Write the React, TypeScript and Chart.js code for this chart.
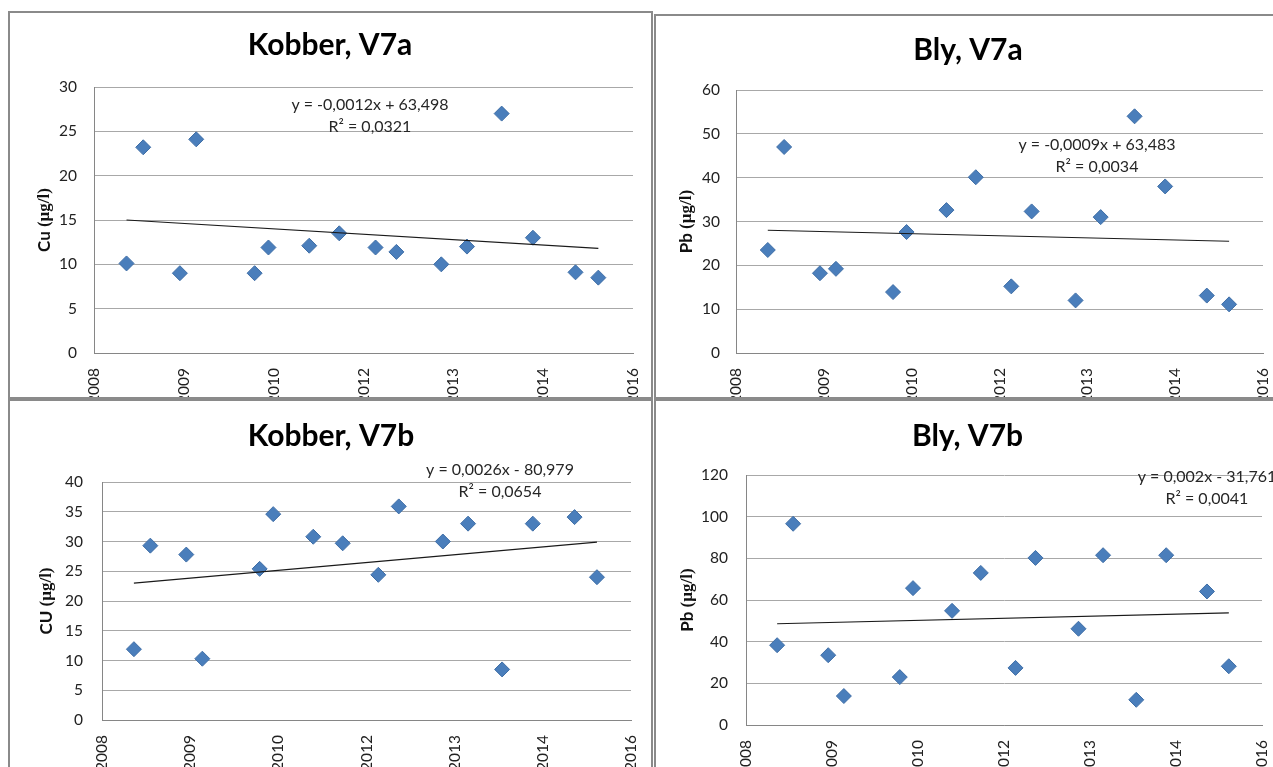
import React, { useEffect, useRef } from 'react';
import { Chart, registerables } from 'chart.js';

Chart.register(...registerables);

// Sampling dates as Excel serial day numbers (shared by all four charts)
const sampleDates = [39681, 39774, 39978, 40069, 40394, 40471, 40698, 40865, 41067, 41183, 41433, 41576, 41769, 41943, 42180, 42307];

// Measured concentrations (µg/l)
const cuV7a = [10.1, 23.2, 9.0, 24.1, 9.0, 11.9, 12.1, 13.5, 11.9, 11.4, 10.0, 12.0, 27.0, 13.0, 9.1, 8.5];
const pbV7a = [23.5, 47.0, 18.2, 19.2, 13.9, 27.6, 32.6, 40.1, 15.2, 32.3, 12.0, 31.0, 54.0, 38.0, 13.1, 11.1];
const cuV7b = [11.9, 29.3, 27.8, 10.3, 25.4, 34.6, 30.8, 29.7, 24.4, 35.9, 30.0, 33.0, 8.5, 33.0, 34.1, 24.0];
const pbV7b = [38.3, 96.6, 33.5, 13.9, 23.0, 65.7, 54.8, 73.0, 27.4, 80.2, 46.2, 81.5, 12.1, 81.5, 64.1, 28.2];

// Linear trendline values at the first and last sampling date
const trendCuV7a = [15.0, 11.8];
const trendPbV7a = [28.0, 25.5];
const trendCuV7b = [23.0, 29.9];
const trendPbV7b = [48.6, 53.8];

// Trendline equation labels
const eqCuV7a = ['y = -0,0012x + 63,498', 'R\u00B2 = 0,0321'];
const eqPbV7a = ['y = -0,0009x + 63,483', 'R\u00B2 = 0,0034'];
const eqCuV7b = ['y = 0,0026x - 80,979', 'R\u00B2 = 0,0654'];
const eqPbV7b = ['y = 0,002x - 31,761', 'R\u00B2 = 0,0041'];

// X axis (Excel date serials, shown as years)
const xAxisMin = 39500;
const xAxisMax = 42500;
const xAxisStep = 500;

const MARKER = '#4A7EBB';
const FONT = 'Lato';

const serialToYear = (serial: number) =>
  new Date(Date.UTC(1899, 11, 30) + serial * 86400000).getUTCFullYear().toString();

type PanelCfg = {
  key: string;
  box: { left: number; top: number; width: number; height: number };
  title: string;
  yLabel: [string, string];
  values: number[];
  trend: number[];
  yMax: number;
  yStep: number;
  eq: string[];
  eqAt: { x: number; y: number };
  padL: number;
  padR: number;
  yWidth: number;
  xHeight: number;
  titleTop: number;
  titleBottom: number;
  yTitleX: number;
  tickPad: number;
};

const panels: PanelCfg[] = [
  {
    key: 'tl', box: { left: 8, top: 11, width: 645, height: 388 },
    title: 'Kobber, V7a', yLabel: ['Cu ', '(\u00B5g/l)'], values: cuV7a, trend: trendCuV7a,
    yMax: 30, yStep: 5, eq: eqCuV7a, eqAt: { x: 41036, y: 28.0 },
    padL: 17, padR: 18, yWidth: 67, xHeight: 44, titleTop: 14.6, titleBottom: 24.6, yTitleX: 35, tickPad: 17,
  },
  {
    key: 'tr', box: { left: 654, top: 14, width: 640, height: 385 },
    title: 'Bly, V7a', yLabel: ['Pb ', '(\u00B5g/l)'], values: pbV7a, trend: trendPbV7a,
    yMax: 60, yStep: 10, eq: eqPbV7a, eqAt: { x: 41555, y: 47.5 },
    padL: 17, padR: 29, yWidth: 63, xHeight: 44, titleTop: 16.6, titleBottom: 22.6, yTitleX: 31, tickPad: 16,
  },
  {
    key: 'bl', box: { left: 8, top: 399, width: 645, height: 372 },
    title: 'Kobber, V7b', yLabel: ['CU ', '(\u00B5g/l)'], values: cuV7b, trend: trendCuV7b,
    yMax: 40, yStep: 5, eq: eqCuV7b, eqAt: { x: 41757, y: 42.0 },
    padL: 21, padR: 20, yWidth: 71, xHeight: 49, titleTop: 17.6, titleBottom: 28.6, yTitleX: 37, tickPad: 19,
  },
  {
    key: 'br', box: { left: 654, top: 399, width: 640, height: 372 },
    title: 'Bly, V7b', yLabel: ['Pb ', '(\u00B5g/l)'], values: pbV7b, trend: trendPbV7b,
    yMax: 120, yStep: 20, eq: eqPbV7b, eqAt: { x: 42180, y: 119 },
    padL: 17, padR: 30, yWidth: 73, xHeight: 44, titleTop: 17.6, titleBottom: 21.6, yTitleX: 32, tickPad: 18,
  },
];

function Panel({ cfg }: { cfg: PanelCfg }) {
  const ref = useRef<HTMLCanvasElement | null>(null);
  const cw = cfg.box.width - 4;
  const ch = cfg.box.height - 4;

  useEffect(() => {
    const canvas = ref.current;
    if (!canvas) return;

    const labelPlugin = {
      id: 'labels_' + cfg.key,
      afterDraw(chart: any) {
        const ctx = chart.ctx as CanvasRenderingContext2D;
        const area = chart.chartArea;
        // Y axis title (mixed fonts)
        ctx.save();
        ctx.translate(cfg.yTitleX, (area.top + area.bottom) / 2);
        ctx.rotate(-Math.PI / 2);
        ctx.textBaseline = 'middle';
        ctx.textAlign = 'left';
        ctx.fillStyle = '#111';
        const f1 = `bold 17px ${FONT}`;
        const f2 = 'bold 17px "Liberation Serif"';
        ctx.font = f1;
        const w1 = ctx.measureText(cfg.yLabel[0]).width;
        ctx.font = f2;
        const w2 = ctx.measureText(cfg.yLabel[1]).width;
        const sx = -(w1 + w2) / 2;
        ctx.font = f1;
        ctx.fillText(cfg.yLabel[0], sx, 0);
        ctx.font = f2;
        ctx.fillText(cfg.yLabel[1], sx + w1, 0);
        ctx.restore();

        // Trendline equation
        const xs = chart.scales.x;
        const ys = chart.scales.y;
        const px = xs.getPixelForValue(cfg.eqAt.x);
        const py = ys.getPixelForValue(cfg.eqAt.y);
        ctx.save();
        ctx.font = `16px ${FONT}`;
        ctx.fillStyle = '#262626';
        ctx.textAlign = 'center';
        ctx.textBaseline = 'middle';
        cfg.eq.forEach((line, i) => ctx.fillText(line, px, py + i * 22));
        ctx.restore();
      },
    };

    const chart = new Chart(canvas, {
      type: 'scatter',
      data: {
        datasets: [
          {
            label: 'trend',
            data: [
              { x: sampleDates[0], y: cfg.trend[0] },
              { x: sampleDates[sampleDates.length - 1], y: cfg.trend[1] },
            ],
            showLine: true,
            borderColor: '#1a1a1a',
            borderWidth: 1.2,
            pointRadius: 0,
            order: 0,
          } as any,
          {
            label: 'values',
            data: sampleDates.map((d, i) => ({ x: d, y: cfg.values[i] })),
            pointStyle: 'rectRot',
            pointRadius: 7.5,
            pointHoverRadius: 7.5,
            backgroundColor: MARKER,
            borderColor: '#3F6EA6',
            borderWidth: 1,
            order: 1,
          } as any,
        ],
      },
      options: {
        responsive: false,
        animation: false,
        devicePixelRatio: 1,
        events: [],
        layout: { padding: { left: cfg.padL, right: cfg.padR, top: 0, bottom: 0 } },
        plugins: {
          legend: { display: false },
          tooltip: { enabled: false },
          title: {
            display: true,
            text: cfg.title,
            color: '#000',
            font: { family: FONT, size: 30, weight: 'bold', lineHeight: 1.2 },
            padding: { top: cfg.titleTop - 0.6, bottom: cfg.titleBottom - 0.6 },
          },
        },
        scales: {
          x: {
            type: 'linear',
            min: xAxisMin,
            max: xAxisMax,
            afterFit: (scale: any) => {
              scale.height = cfg.xHeight;
              scale.paddingLeft = 0;
              scale.paddingRight = 0;
            },
            ticks: {
              stepSize: xAxisStep,
              autoSkip: false,
              minRotation: 90,
              maxRotation: 90,
              padding: 15,
              color: '#222',
              font: { family: FONT, size: 15.5 },
              callback: (v: any) => serialToYear(Number(v)),
            },
            grid: { display: false, drawTicks: false },
            border: { display: true, color: '#868686', width: 1 },
          },
          y: {
            type: 'linear',
            min: 0,
            max: cfg.yMax,
            afterFit: (scale: any) => { scale.width = cfg.yWidth; },
            ticks: {
              stepSize: cfg.yStep,
              padding: cfg.tickPad,
              color: '#222',
              font: { family: FONT, size: 15.5 },
            },
            grid: { color: '#a8a8a8', lineWidth: 1, drawTicks: false },
            border: { display: true, color: '#868686', width: 1 },
          },
        },
      } as any,
      plugins: [labelPlugin],
    });

    let alive = true;
    if ((document as any).fonts && (document as any).fonts.ready) {
      (document as any).fonts.ready.then(() => { if (alive) chart.update(); });
    }
    return () => { alive = false; chart.destroy(); };
  }, [cfg]);

  return (
    <div
      style={{
        position: 'absolute',
        left: cfg.box.left,
        top: cfg.box.top,
        width: cfg.box.width,
        height: cfg.box.height,
        border: '2px solid #8a8a8a',
        boxSizing: 'border-box',
        overflow: 'hidden',
        background: '#fff',
      }}
    >
      <canvas ref={ref} width={cw} height={ch} style={{ display: 'block', width: cw, height: ch }} />
    </div>
  );
}

export default function App() {
  return (
    <div
      style={{
        position: 'absolute',
        left: 0,
        top: 0,
        width: 1273,
        height: 767,
        overflow: 'hidden',
        background: '#fff',
      }}
    >
      {panels.map((p) => (
        <Panel key={p.key} cfg={p} />
      ))}
    </div>
  );
}
